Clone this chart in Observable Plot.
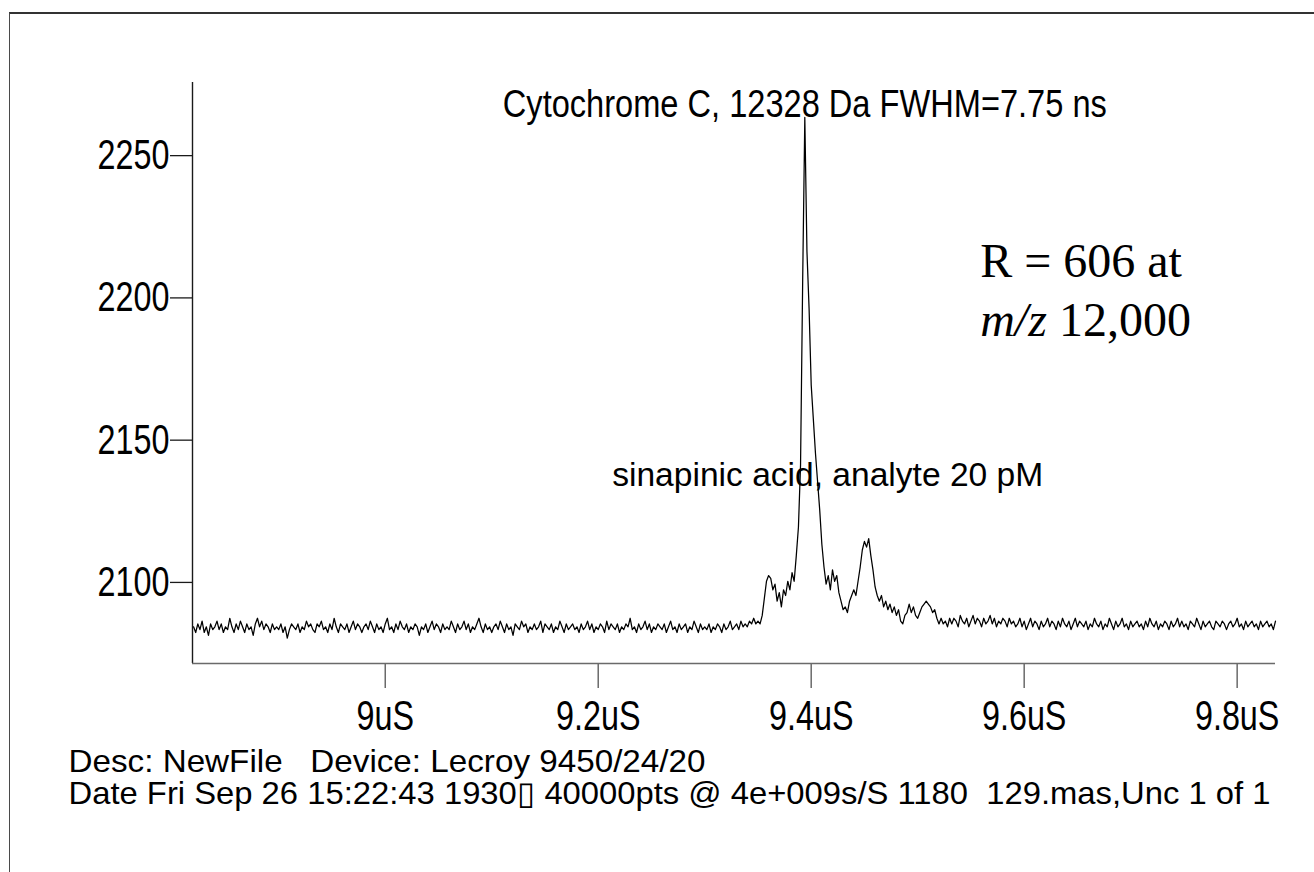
<!DOCTYPE html>
<html>
<head>
<meta charset="utf-8">
<script src="https://cdn.jsdelivr.net/npm/d3@7"></script>
<script src="https://cdn.jsdelivr.net/npm/@observablehq/plot@0.6"></script>
<style>
  html, body { margin: 0; padding: 0; background: #fff; }
  #page { position: relative; width: 1314px; height: 872px; overflow: hidden; }
  #frame { position: absolute; left: 9px; top: 12px; right: -10px; bottom: -10px;
           border-left: 1.5px solid #4a4a4a; border-top: 2px solid #333; }
  #chart { position: absolute; left: 0; top: 0; }
</style>
</head>
<body>
<div id="page"><div id="frame"></div><div id="chart"></div></div>
<script>
// Digitizer trace: one sample every 2 ns starting at 8.820 µs
const startTime = 8.820;   // µs
const sampleStep = 0.002;  // µs

// Flat baseline before the ion packet arrives (8.820 – 9.348 µs)
const baselineBefore = [
  2083,2081,2084,2082,2085,2081,2083,2080,2084,2082,2083,2085,2082,2084,2081,2083,2082,2086,2083,2081,
  2084,2082,2085,2083,2081,2084,2082,2083,2080,2084,2086,2083,2085,2082,2084,2083,2081,2084,2082,2083,
  2082,2084,2081,2083,2079,2082,2084,2083,2082,2084,2081,2083,2082,2085,2083,2084,2082,2081,2084,2083,
  2085,2082,2083,2081,2084,2082,2086,2083,2081,2084,2083,2082,2084,2081,2083,2085,2082,2084,2083,2081,
  2083,2084,2082,2085,2083,2081,2084,2082,2083,2081,2084,2086,2082,2083,2081,2084,2082,2085,2083,2082,
  2084,2081,2083,2082,2084,2083,2080,2083,2082,2084,2081,2083,2085,2082,2084,2083,2081,2084,2082,2083,
  2082,2085,2083,2081,2084,2082,2083,2085,2082,2084,2081,2083,2082,2084,2086,2083,2081,2084,2082,2083,
  2081,2083,2084,2082,2085,2083,2081,2084,2082,2083,2080,2084,2083,2082,2085,2083,2084,2081,2083,2082,
  2084,2082,2083,2085,2081,2084,2083,2082,2084,2081,2083,2082,2085,2083,2081,2084,2082,2083,2084,2082,
  2083,2081,2084,2082,2083,2085,2082,2084,2081,2083,2082,2084,2083,2081,2085,2082,2084,2083,2082,2084,
  2081,2083,2082,2084,2083,2086,2082,2083,2081,2084,2082,2083,2085,2082,2084,2081,2083,2082,2084,2083,
  2082,2084,2081,2083,2085,2082,2083,2081,2084,2082,2083,2084,2081,2083,2082,2085,2083,2081,2084,2082,
  2083,2082,2084,2081,2083,2082,2084,2083,2081,2084,2082,2083,2085,2082,2083,2084,2082,2085,2083,2084,
  2083,2085,2084,2086,2084
];

// Shoulder, cytochrome C peak and satellite peaks (9.350 – 9.530 µs)
const peakRegion = [
  2085,2084,2087,2093,2099,2101,2100,2096,2098,2092,
  2095,2090,2096,2094,2099,2096,2102,2099,2108,2118,
  2140,2205,2262,2215,2195,2168,2156,2144,2134,2124,
  2112,2104,2098,2101,2096,2103,2099,2101,2095,2092,
  2089,2090,2088,2092,2094,2096,2094,2099,2104,2110,
  2113,2111,2114,2108,2103,2097,2094,2092,2094,2090,
  2092,2089,2091,2088,2090,2087,2089,2085,2084,2087,
  2088,2091,2088,2090,2087,2086,2088,2090,2091,2092,
  2091,2090,2088,2089,2086,2084,2086,2084,2085,2083,
  2086
];

// Tail back to baseline (9.532 – 9.836 µs)
const baselineAfter = [
  2084,2086,2085,2083,2087,2085,2084,2086,2083,2085,2087,2084,2086,2085,2083,2086,2084,2085,2087,2084,
  2086,2083,2085,2084,2086,2085,2083,2086,2084,
  2085,2083,2084,2086,2083,2085,2082,2084,2086,2083,2085,2084,2082,2085,2083,2084,2086,2083,2085,2084,
  2082,2085,2083,2086,2084,2083,2085,2082,2084,2086,2083,2085,2084,2083,2085,2082,2084,2083,2086,2084,
  2083,2085,2082,2084,2083,2086,2084,2082,2085,2083,2084,2086,2083,2084,2082,2085,2083,2084,2085,2083,
  2084,2082,2085,2083,2086,2084,2083,2085,2082,2084,2083,2085,2084,2082,2085,2083,2084,2086,2083,2085,
  2083,2084,2082,2085,2084,2083,2086,2084,2082,2085,2083,2084,2085,2083,2082,2085,2084,2083,2085,2084,
  2082,2084,2085,2083,2084,2086,2083,2084,2082,2085,2083,2084,2085,2083,2084,2082,2085,2083,2084,2085,
  2083,2084,2082,2085
];

// Axes
const timeDomain = [8.819, 9.836];     // µs
const signalDomain = [2070.1, 2274.3]; // digitizer counts
const timeTicks = [9, 9.2, 9.4, 9.6, 9.8];
const signalTicks = [2100, 2150, 2200, 2250];
const timeFormat = d => `${d}uS`;
const signalFormat = d3.format("d");

// Annotations
const peakLabel = "Cytochrome C, 12328 Da FWHM=7.75 ns";
const peakTime = 9.394, peakValue = 2262;
const matrixLabel = "sinapinic acid, analyte 20 pM";
const matrixLabelAt = {t: 9.4155, v: 2132.6};
const resolutionLine1 = "R = 606 at";
const resolutionLine2 = ["m/z", " 12,000"];
const resolutionAt = {t: 9.5587, v1: 2205.8, v2: 2185.3};
const descLine = "Desc: NewFile   Device: Lecroy 9450/24/20";
const dateLine = "Date Fri Sep 26 15:22:43 1930\u25AF 40000pts @ 4e+009s/S 1180  129.mas,Unc 1 of 1";

const signal = [...baselineBefore, ...peakRegion, ...baselineAfter];
const trace = signal.map((v, i) => ({t: startTime + i * sampleStep, v}));

const sans = "'Liberation Sans', Arial, Helvetica, sans-serif";
const serif = "'Liberation Serif', 'Times New Roman', serif";

const chart = Plot.plot({
  width: 1314,
  height: 872,
  marginLeft: 192,
  marginRight: 39,
  marginTop: 82,
  marginBottom: 209,
  x: {domain: timeDomain, axis: null},
  y: {domain: signalDomain, axis: null},
  style: {fontFamily: sans, background: "transparent", color: "#000", overflow: "visible"},
  marks: [
    Plot.ruleX([timeDomain[0]], {stroke: "#1a1a1a", strokeWidth: 1.4}),
    Plot.ruleY([signalDomain[0]], {stroke: "#6a6a6a", strokeWidth: 1.6}),
    Plot.axisY({ticks: signalTicks, tickFormat: signalFormat, tickSize: 22, tickPadding: 1,
                fontSize: 42, dy: 4, stroke: "#1a1a1a", strokeWidth: 1.3, fill: "#000", label: null}),
    Plot.axisX({ticks: timeTicks, tickFormat: timeFormat, tickSize: 25, tickPadding: 12,
                fontSize: 42, stroke: "#6a6a6a", strokeWidth: 1.5, fill: "#000", label: null}),
    Plot.line(trace, {x: "t", y: "v", stroke: "#000", strokeWidth: 1.25}),
    Plot.text([peakLabel], {x: peakTime, y: peakValue, text: d => d, lineAnchor: "bottom",
                            textAnchor: "middle", fontSize: 38, fill: "#000"}),
    Plot.text([matrixLabel], {x: matrixLabelAt.t, y: matrixLabelAt.v, text: d => d, lineAnchor: "bottom",
                              textAnchor: "middle", fontSize: 34, fill: "#000"}),
    Plot.text([resolutionLine1], {x: resolutionAt.t, y: resolutionAt.v1, text: d => d, lineAnchor: "bottom",
                                  textAnchor: "start", fontSize: 48, fontFamily: serif, fill: "#000"}),
    Plot.text([resolutionLine2.join("")], {x: resolutionAt.t, y: resolutionAt.v2, text: d => d,
                                  lineAnchor: "bottom", textAnchor: "start", fontSize: 48,
                                  fontFamily: serif, fill: "#000"}),
    Plot.text([descLine], {frameAnchor: "bottom-left", text: d => d, lineAnchor: "bottom",
                           textAnchor: "start", dx: -124, dy: 108, fontSize: 32, fill: "#000"}),
    Plot.text([dateLine], {frameAnchor: "bottom-left", text: d => d, lineAnchor: "bottom",
                           textAnchor: "start", dx: -124, dy: 140, fontSize: 32, fill: "#000"})
  ]
});

document.getElementById("chart").appendChild(chart);

// Oscilloscope lettering is narrow: squeeze the sans-serif texts horizontally
const tickStrings = new Set([...signalTicks.map(signalFormat), ...timeTicks.map(timeFormat)]);
const fixedWidths = new Map([
  [peakLabel, 604],
  [matrixLabel, 431],
  [descLine, 637],
  [dateLine, 1202]
]);
d3.select(chart).selectAll("text").each(function () {
  const s = this.textContent;
  let target = null;
  if (tickStrings.has(s)) target = this.getComputedTextLength() * 0.77;
  else if (fixedWidths.has(s)) target = fixedWidths.get(s);
  if (target != null) {
    this.setAttribute("textLength", target.toFixed(1));
    this.setAttribute("lengthAdjust", "spacingAndGlyphs");
  }
  // italic m/z in the resolution note
  if (s === resolutionLine2.join("")) {
    const t = d3.select(this).text(null);
    t.append("tspan").attr("font-style", "italic").text(resolutionLine2[0]);
    t.append("tspan").text(resolutionLine2[1]);
  }
});
</script>
</body>
</html>
